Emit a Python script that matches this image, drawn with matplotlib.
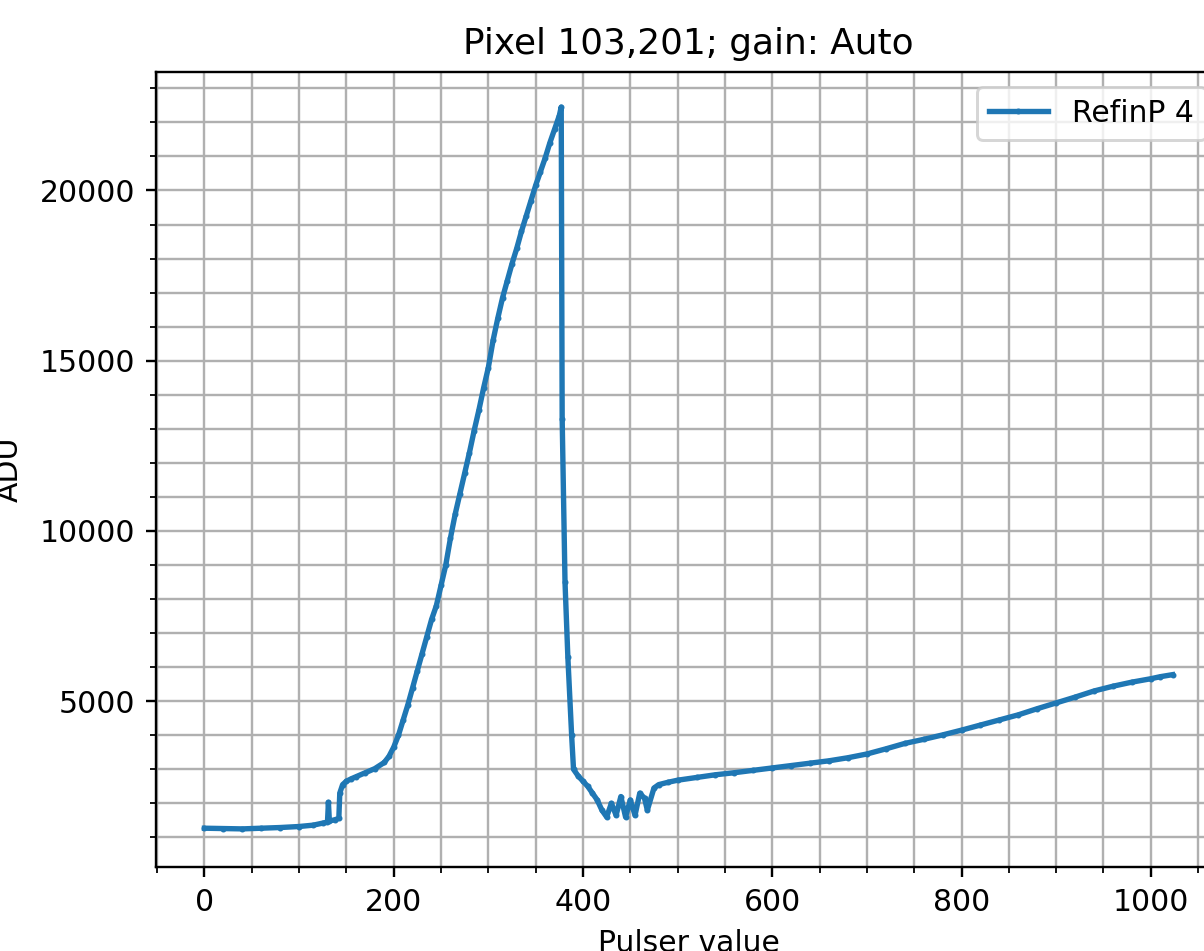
import matplotlib
matplotlib.use('Agg')
import matplotlib.pyplot as plt
from matplotlib.ticker import MultipleLocator

# pulser scan of one pixel, ADU vs pulser setting
pulser = [0, 20, 40, 60, 80, 100, 115, 125, 130, 131, 132, 138, 142, 143, 146,
          150, 155, 160, 170, 180, 190, 195, 200, 205, 210, 215, 220, 225, 230,
          235, 240, 245, 250, 255, 260, 265, 270, 275, 280, 285, 290, 295, 300,
          305, 310, 315, 320, 325, 330, 335, 340, 345, 350, 355, 360, 365, 370,
          375, 377, 378, 381, 384, 388, 390, 395, 400, 405, 410, 415, 420, 425,
          430, 435, 440, 445, 450, 455, 460, 465, 468, 475, 480, 490, 500, 520,
          540, 560, 580, 600, 620, 640, 660, 680, 700, 720, 740, 760, 780, 800,
          820, 840, 860, 880, 900, 920, 940, 960, 980, 1000, 1010, 1023]
adu = [1270, 1260, 1250, 1270, 1290, 1320, 1360, 1420, 1450, 2030, 1480, 1520,
       1560, 2300, 2550, 2650, 2720, 2780, 2900, 3020, 3200, 3380, 3650, 4000,
       4450, 4900, 5400, 5900, 6400, 6900, 7400, 7800, 8400, 9000, 9800, 10500,
       11100, 11700, 12300, 12950, 13550, 14200, 14800, 15600, 16250, 16850,
       17350, 17850, 18300, 18800, 19250, 19700, 20150, 20550, 20950, 21400,
       21800, 22200, 22450, 13300, 8500, 6300, 4000, 3000, 2800, 2650, 2500,
       2300, 2100, 1800, 1600, 2000, 1650, 2200, 1600, 2100, 1650, 2300, 2150,
       1800, 2450, 2550, 2620, 2680, 2760, 2840, 2900, 2970, 3040, 3110, 3180,
       3250, 3340, 3450, 3600, 3760, 3880, 4010, 4150, 4300, 4450, 4600, 4780,
       4950, 5120, 5300, 5440, 5560, 5660, 5720, 5780]

DPI = 215
fig = plt.figure(figsize=(1204 / DPI, 951 / DPI), dpi=DPI)
ax = fig.add_axes([0.1296, 0.0883, 0.8845, 0.836])

ax.plot(pulser, adu, marker='.', markersize=2, linewidth=1.8,
        color='#1f77b4', label='RefinP 4')

ax.set_xlim(-51.15, 1074.15)
ax.set_ylim(130, 23480)
ax.xaxis.set_major_locator(MultipleLocator(200))
ax.xaxis.set_minor_locator(MultipleLocator(50))
ax.yaxis.set_major_locator(MultipleLocator(5000))
ax.yaxis.set_minor_locator(MultipleLocator(1000))
ax.grid(which='both')

ax.set_title('Pixel 103,201; gain: Auto')
ax.set_xlabel('Pulser value')
ax.set_ylabel('ADU')
ax.yaxis.set_label_coords(-0.124, 0.5)
ax.legend(loc='upper right')

fig.savefig('out.png', dpi=DPI)
